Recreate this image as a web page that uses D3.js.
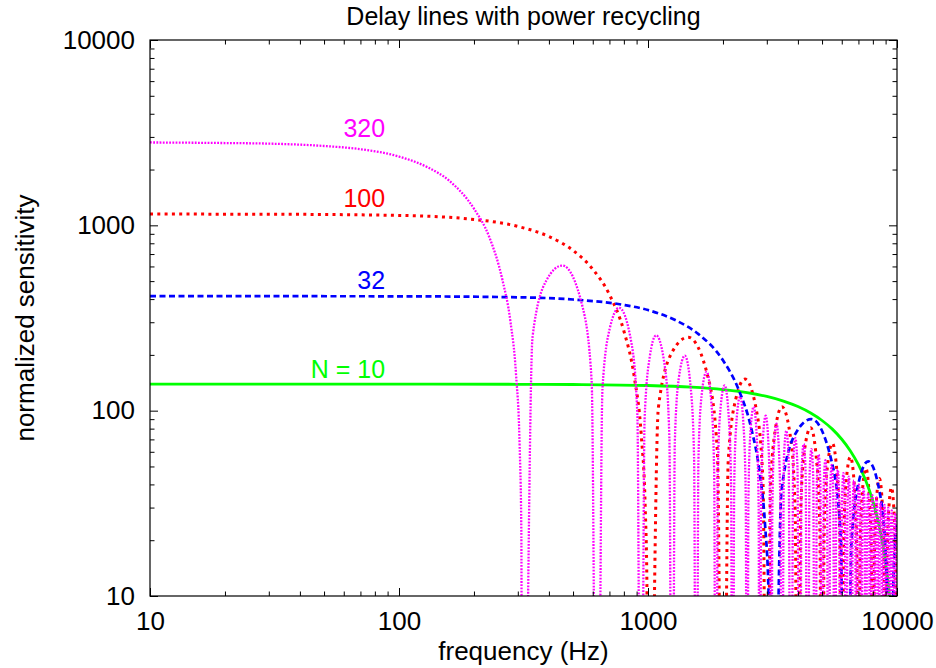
<!DOCTYPE html>
<html><head><meta charset="utf-8">
<script src="https://cdn.jsdelivr.net/npm/d3@7"></script>
<style>
html,body{margin:0;padding:0;background:#fff;}
svg{display:block;font-family:"Liberation Sans",Arial,Helvetica,sans-serif;}
</style></head><body>
<svg id="chart" width="936" height="668"></svg>
<script>
// ---- data: [frequency Hz, normalized sensitivity]; 0 = response dips to zero ----
const seriesN10 = [[10,139],[100,139],[300,138.8],[500,138.4],[1000,136.7],[1500,133.9],[2000,130],[2500,125.1],[3000,119.3],[3500,112.6],[4000,105.2],[4500,97.1],[5000,88.5],[5500,79.5],[6000,70.1],[6500,60.6],[7000,51.1],[7500,41.7],[8000,32.5],[8500,23.6],[9000,15.2],[9300,10.4],[9500,7.3],[10000,0]];

const seriesN32 = [[10,415],[100,414],[300,409],[500,398],[800,372],[1000,349],[1300,306],[1600,258],[2000,187],[2300,132],[2600,80],[2800,47.5],[2950,24.5],[3050,10.2],[3125,0],
 [3437.5,37],[3906.3,75],[4531.3,90],[5468.8,53],[5937.5,21.5],[6250,0],
 [6562.5,19.4],[7031.3,41.5],[7656.3,53.3],[8593.8,34],[9062.5,14.1],[9375,0],
 [9687.5,13.2],[10000,24.3]];

const seriesN100 = [[10,1150],[30,1148],[100,1131],[200,1076],[300,987],[400,870],[500,732],[600,580],[700,423],[800,269],[880,153],[940,73],[975,29.5],[990,11.6],[1000,0],
 [1100,103],[1250,207],[1450,249],[1750,148],[1900,59.5],[2000,0],
 [2100,54],[2250,115],[2450,148],[2750,94],[2900,39],[3000,0],
 [3100,36.5],[3250,80],[3450,105],[3750,69],[3900,29],[4000,0],
 [4100,27.6],[4250,61],[4500,81],[4750,54.5],[4900,23.1],[5000,0],
 [5100,22.2],[5250,49.3],[5500,66.6],[5750,45],[5900,19.2],[6000,0],
 [6100,18.5],[6250,41.4],[6500,56.3],[6750,38.4],[6900,16.4],[7000,0],
 [7100,15.9],[7250,35.7],[7500,48.8],[7750,33.4],[7900,14.3],[8000,0],
 [8100,14],[8250,31.4],[8500,43.1],[8750,29.6],[8900,12.7],[9000,0],
 [9100,12.4],[9250,28],[9500,38.5],[9750,26.6],[9900,11.4],[10000,0]];

const seriesN320 = [[10,2800],[20,2780],[30,2760],[50,2680],[70,2575],[100,2350],[130,2060],[160,1730],[200,1230],[230,870],[260,510],[280,305],[295,158],[305,66],[310,22],[312.5,0],
 [343.8,250],[390.6,504],[453.1,607],[546.9,360],[593.8,145],[625,0],
 [656.3,131],[703.1,280],[765.6,359],[859.4,229],[906.3,95],[937.5,0],
 [968.8,89],[1015.6,194],[1078.1,255],[1171.9,168],[1218.8,71],[1250,0],
 [1281.3,67],[1328.1,148],[1406.3,198],[1484.4,133],[1531.3,56],[1562.5,0],
 [1593.8,54],[1640.6,120],[1718.8,162],[1796.9,110],[1843.8,47],[1875,0],
 [1906.3,45],[1953.1,101],[2031.3,137],[2109.4,93],[2156.3,40],[2187.5,0],
 [2218.8,39],[2265.6,87],[2343.8,119],[2421.9,81],[2468.8,35],[2500,0],
 [2531.3,34],[2578.1,76],[2656.3,105],[2734.4,72],[2781.3,31],[2812.5,0],
 [2843.8,30],[2890.6,68],[2968.8,94],[3046.9,65],[3093.8,28],[3125,0],
 [3156.3,27],[3203.1,62],[3281.3,85],[3359.4,59],[3406.3,25],[3437.5,0],
 [3515.6,56],[3593.8,78],[3671.9,54],[3750,0],
 [3828.1,51],[3906.3,71],[3984.4,49],[4062.5,0],
 [4140.6,48],[4218.8,66],[4296.9,46],[4375,0],
 [4453.1,44],[4531.3,62],[4609.4,43],[4687.5,0],
 [4765.6,41],[4843.8,58],[4921.9,40],[5000,0],
 [5078.1,39],[5156.3,54],[5234.4,38],[5312.5,0],
 [5390.6,37],[5468.8,51],[5546.9,36],[5625,0],
 [5703.1,35],[5781.3,48],[5859.4,34],[5937.5,0],
 [6015.6,33],[6093.8,46],[6171.9,32],[6250,0],
 [6328.1,31],[6406.3,44],[6484.4,30],[6562.5,0],
 [6640.6,30],[6718.8,42],[6796.9,29],[6875,0],
 [6953.1,28],[7031.3,40],[7109.4,28],[7187.5,0],
 [7265.6,27],[7343.8,38],[7421.9,27],[7500,0],
 [7578.1,26],[7656.3,36],[7734.4,26],[7812.5,0],
 [7890.6,25],[7968.8,35],[8046.9,25],[8125,0],
 [8203.1,24],[8281.3,34],[8359.4,24],[8437.5,0],
 [8515.6,23],[8593.8,32],[8671.9,23],[8750,0],
 [8828.1,22],[8906.3,31],[8984.4,22],[9062.5,0],
 [9140.6,22],[9218.8,30],[9296.9,21],[9375,0],
 [9453.1,21],[9531.3,29],[9609.4,21],[9687.5,0],
 [9765.6,20],[9843.8,28],[9921.9,20],[10000,0]];

const seriesNames = ["N = 10","32","100","320"];
const labelAnchors = [[88,150],[88,453],[88,1250],[88,3000]]; // [freq, sensitivity] where each label ends
const xTickValues = [10,100,1000,10000];
const xTickLabels = ["10","100","1000","10000"];
const yTickValues = [10,100,1000,10000];
const yTickLabels = ["10","100","1000","10000"];
const minorTickValues = [20,30,40,50,60,70,80,90,200,300,400,500,600,700,800,900,2000,3000,4000,5000,6000,7000,8000,9000];

// ---- chart ----
const W = 936, H = 668;
const m = {left:150, right:897, top:40, bottom:596};
const FONT = "'Liberation Sans', Arial, Helvetica, sans-serif";
const x = d3.scaleLog().domain([10,10000]).range([m.left, m.right]);
const y = d3.scaleLog().domain([10,10000]).range([m.bottom, m.top]);
const svg = d3.select("#chart");
svg.append("rect").attr("width",W).attr("height",H).attr("fill","#fff");
svg.append("defs").append("clipPath").attr("id","clip")
  .append("rect").attr("x",m.left).attr("y",m.top).attr("width",m.right-m.left).attr("height",m.bottom-m.top);

const FLOOR = 0.1;
const line = d3.line().x(d=>x(d[0])).y(d=>y(Math.max(d[1],FLOOR))).curve(d3.curveMonotoneX);

const styles = [
  {data: seriesN100, color:"#ff0000", width:3,   dash:"3,4.3"},
  {data: seriesN10,  color:"#00ff00", width:2.8, dash:null},
  {data: seriesN32,  color:"#0000ff", width:2.7, dash:"6,3.5"},
  {data: seriesN320, color:"#ff00ff", width:2.3, dash:"1.8,1.4"}
];
const plot = svg.append("g").attr("clip-path","url(#clip)");
styles.forEach(s=>{
  plot.append("path").datum(s.data).attr("d",line)
    .attr("fill","none").attr("stroke",s.color).attr("stroke-width",s.width)
    .attr("stroke-dasharray",s.dash);
});

// axes
function styleAxis(g){
  g.select(".domain").remove();
  g.attr("font-size",26).attr("font-family",FONT);
  g.selectAll("line").attr("stroke","#000").attr("stroke-width",1);
  g.selectAll("text").attr("fill","#000");
}
svg.append("g").attr("transform",`translate(0,${m.bottom})`)
  .call(d3.axisBottom(x).tickValues(xTickValues).tickFormat((d,i)=>xTickLabels[i]).tickSizeInner(-8).tickSizeOuter(0).tickPadding(15.5)).call(styleAxis);
svg.append("g").attr("transform",`translate(0,${m.bottom})`)
  .call(d3.axisBottom(x).tickValues(minorTickValues).tickFormat("").tickSizeInner(-4.5).tickSizeOuter(0)).call(styleAxis);
svg.append("g").attr("transform",`translate(0,${m.top})`)
  .call(d3.axisTop(x).tickValues(xTickValues).tickFormat("").tickSizeInner(-8).tickSizeOuter(0)).call(styleAxis);
svg.append("g").attr("transform",`translate(0,${m.top})`)
  .call(d3.axisTop(x).tickValues(minorTickValues).tickFormat("").tickSizeInner(-4.5).tickSizeOuter(0)).call(styleAxis);
svg.append("g").attr("transform",`translate(${m.left},0)`)
  .call(d3.axisLeft(y).tickValues(yTickValues).tickFormat((d,i)=>yTickLabels[i]).tickSizeInner(-8).tickSizeOuter(0).tickPadding(15)).call(styleAxis);
svg.append("g").attr("transform",`translate(${m.left},0)`)
  .call(d3.axisLeft(y).tickValues(minorTickValues).tickFormat("").tickSizeInner(-4.5).tickSizeOuter(0)).call(styleAxis);
svg.append("g").attr("transform",`translate(${m.right},0)`)
  .call(d3.axisRight(y).tickValues(yTickValues).tickFormat("").tickSizeInner(-8).tickSizeOuter(0)).call(styleAxis);
svg.append("g").attr("transform",`translate(${m.right},0)`)
  .call(d3.axisRight(y).tickValues(minorTickValues).tickFormat("").tickSizeInner(-4.5).tickSizeOuter(0)).call(styleAxis);

svg.append("rect").attr("x",m.left).attr("y",m.top).attr("width",m.right-m.left).attr("height",m.bottom-m.top)
  .attr("fill","none").attr("stroke","#000").attr("stroke-width",1.2);

// series labels
const labelColors = ["#00ff00","#0000ff","#ff0000","#ff00ff"];
seriesNames.forEach((t,i)=>{
  svg.append("text").attr("x",x(labelAnchors[i][0])).attr("y",y(labelAnchors[i][1]))
    .attr("text-anchor","end").attr("font-size",25).attr("font-family",FONT)
    .attr("fill",labelColors[i]).text(t);
});

// titles
svg.append("text").attr("x",(m.left+m.right)/2).attr("y",25).attr("text-anchor","middle")
  .attr("font-size",25).attr("font-family",FONT).attr("fill","#000").text("Delay lines with power recycling");
svg.append("text").attr("x",(m.left+m.right)/2).attr("y",660).attr("text-anchor","middle")
  .attr("font-size",26).attr("font-family",FONT).attr("fill","#000").text("frequency (Hz)");
svg.append("text").attr("transform",`translate(34,${(m.top+m.bottom)/2}) rotate(-90)`).attr("text-anchor","middle")
  .attr("font-size",26).attr("font-family",FONT).attr("fill","#000").text("normalized sensitivity");
</script>
</body></html>
